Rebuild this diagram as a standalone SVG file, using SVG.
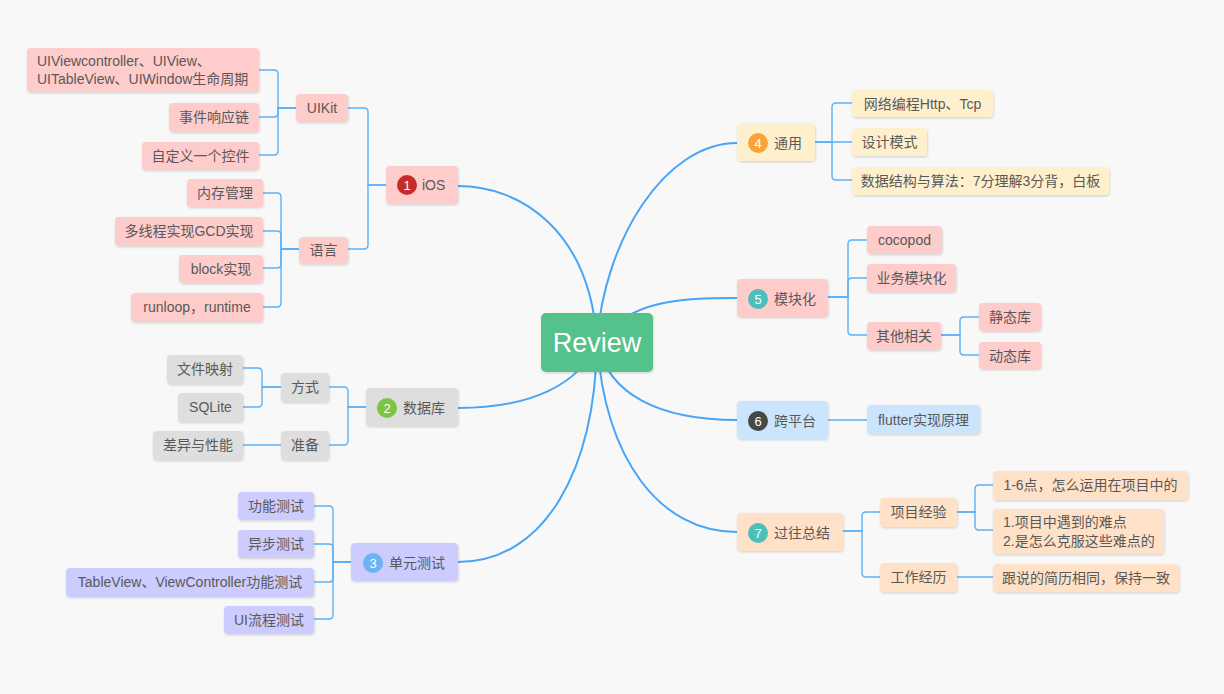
<svg xmlns="http://www.w3.org/2000/svg" width="1224" height="694" viewBox="0 0 1224 694">
<defs>
<filter id="sh" x="-10%" y="-20%" width="120%" height="150%">
<feDropShadow dx="0.6" dy="1.2" stdDeviation="0.8" flood-color="#000" flood-opacity="0.16"/>
</filter>
<style>
text{font-family:"Liberation Sans","Noto Sans CJK SC",sans-serif;font-size:14px;fill:#595959;dominant-baseline:central}
.c{text-anchor:middle}
.box{filter:url(#sh)}
.pink{fill:#FFCCCC}
.grey{fill:#DEDEDE}
.lav{fill:#CCCCFF}
.cream{fill:#FFF0CD}
.blue{fill:#CCE5FF}
.peach{fill:#FFE1C7}
.main{fill:none;stroke:#47A5F6;stroke-width:2}
.sub{fill:none;stroke:#5DB1F7;stroke-width:1.4}
.bn{fill:#fff;font-size:13px;text-anchor:middle}
</style>
</defs>
<rect width="1224" height="694" fill="#F8F8F8"/>
<g id="connectors">
<path class="main" d="M597,342 C590,230 520,186 458,186"/>
<path class="main" d="M597,342 C580,385 530,408 458,408"/>
<path class="main" d="M597,342 C595,470 545,562 458,562"/>
<path class="main" d="M597,342 C604,240 665,143 737,143"/>
<path class="main" d="M597,342 C630,300 680,298 737,298"/>
<path class="main" d="M597,342 C608,395 660,420 737,420"/>
<path class="main" d="M597,342 C605,460 660,532 737,532"/>
<path class="sub" d="M386,185 H368 V112 Q368,108 364,108 H348"/>
<path class="sub" d="M386,185 H368 V245 Q368,249 364,249 H348"/>
<path class="sub" d="M296,108 H278 V74 Q278,70 274,70 H259"/>
<path class="sub" d="M296,108 H278 V113 Q278,117 274,117 H259"/>
<path class="sub" d="M296,108 H278 V151 Q278,155 274,155 H259"/>
<path class="sub" d="M299,249 H281 V197 Q281,193 277,193 H263"/>
<path class="sub" d="M299,249 H281 V235 Q281,231 277,231 H263"/>
<path class="sub" d="M299,249 H281 V264 Q281,268 277,268 H263"/>
<path class="sub" d="M299,249 H281 V303 Q281,307 277,307 H263"/>
<path class="sub" d="M366,407 H348 V391 Q348,387 344,387 H329"/>
<path class="sub" d="M366,407 H348 V441 Q348,445 344,445 H329"/>
<path class="sub" d="M281,387 H262 V372 Q262,368 258,368 H243"/>
<path class="sub" d="M281,387 H262 V403 Q262,407 258,407 H243"/>
<path class="sub" d="M281,445 H243"/>
<path class="sub" d="M351,562 H333 V510 Q333,506 329,506 H314"/>
<path class="sub" d="M351,562 H333 V548 Q333,544 329,544 H314"/>
<path class="sub" d="M351,562 H333 V578 Q333,582 329,582 H314"/>
<path class="sub" d="M351,562 H333 V615 Q333,619 329,619 H314"/>
<path class="sub" d="M815,142 H832 V107 Q832,103 836,103 H852"/>
<path class="sub" d="M815,142 H852"/>
<path class="sub" d="M815,142 H832 V176 Q832,180 836,180 H852"/>
<path class="sub" d="M828,297 H848 V244 Q848,240 852,240 H867"/>
<path class="sub" d="M828,297 H848 V282 Q848,278 852,278 H867"/>
<path class="sub" d="M828,297 H848 V331 Q848,335 852,335 H867"/>
<path class="sub" d="M941,335 H960 V321 Q960,317 964,317 H979"/>
<path class="sub" d="M941,335 H960 V351 Q960,355 964,355 H979"/>
<path class="sub" d="M828,420 H867"/>
<path class="sub" d="M843,531 H862 V516 Q862,512 866,512 H880"/>
<path class="sub" d="M843,531 H862 V573 Q862,577 866,577 H880"/>
<path class="sub" d="M957,512 H975 V489 Q975,485 979,485 H993"/>
<path class="sub" d="M957,512 H975 V526 Q975,530 979,530 H993"/>
<path class="sub" d="M957,577 H993"/>
</g>
<g id="root">
<rect class="box" x="541" y="313" width="112" height="59" rx="5" fill="#55C18B"/>
<text class="c" x="597" y="343" style="font-size:27px;fill:#fff">Review</text>
</g>
<g id="ios">
<rect class="box pink" x="386" y="166" width="72" height="38" rx="4"/>
<circle cx="407" cy="185" r="10" fill="#C62C2C"/>
<text class="bn" x="407" y="185">1</text>
<text x="422" y="185">iOS</text>
</g>
<g id="uikit"><rect class="box pink" x="296" y="94" width="52" height="28" rx="4"/><text class="c" x="322" y="108">UIKit</text></g>
<g id="lang"><rect class="box pink" x="299" y="237" width="49" height="27" rx="4"/><text class="c" x="323.5" y="250">语言</text></g>
<g id="lifecycle"><rect class="box pink" x="27" y="48" width="232" height="44" rx="4"/>
<text x="37" y="61">UIViewcontroller、UIView、</text>
<text x="37" y="79">UITableView、UIWindow生命周期</text></g>
<g id="responder"><rect class="box pink" x="169" y="103" width="90" height="29" rx="4"/><text class="c" x="214" y="117">事件响应链</text></g>
<g id="custom"><rect class="box pink" x="142" y="142" width="117" height="28" rx="4"/><text class="c" x="200.5" y="156">自定义一个控件</text></g>
<g id="memory"><rect class="box pink" x="187" y="179" width="76" height="28" rx="4"/><text class="c" x="225" y="193">内存管理</text></g>
<g id="gcd"><rect class="box pink" x="115" y="217" width="148" height="29" rx="4"/><text class="c" x="189" y="231">多线程实现GCD实现</text></g>
<g id="block"><rect class="box pink" x="179" y="255" width="84" height="28" rx="4"/><text class="c" x="221" y="269">block实现</text></g>
<g id="runloop"><rect class="box pink" x="131" y="293" width="132" height="29" rx="4"/><text class="c" x="197" y="307">runloop，runtime</text></g>
<g id="db">
<rect class="box grey" x="366" y="388" width="92" height="38" rx="4"/>
<circle cx="387" cy="408" r="10" fill="#7CC444"/>
<text class="bn" x="387" y="408">2</text>
<text x="403" y="408">数据库</text>
</g>
<g id="way"><rect class="box grey" x="281" y="373" width="48" height="29" rx="4"/><text class="c" x="305" y="387">方式</text></g>
<g id="prep"><rect class="box grey" x="281" y="431" width="48" height="29" rx="4"/><text class="c" x="305" y="445">准备</text></g>
<g id="mmap"><rect class="box grey" x="167" y="355" width="76" height="29" rx="4"/><text class="c" x="205" y="369">文件映射</text></g>
<g id="sqlite"><rect class="box grey" x="178" y="393" width="65" height="29" rx="4"/><text class="c" x="210.5" y="407">SQLite</text></g>
<g id="diff"><rect class="box grey" x="153" y="431" width="90" height="29" rx="4"/><text class="c" x="198" y="445">差异与性能</text></g>
<g id="unittest">
<rect class="box lav" x="351" y="543" width="107" height="38" rx="4"/>
<circle cx="373" cy="563" r="10" fill="#6DB2F3"/>
<text class="bn" x="373" y="563">3</text>
<text x="389" y="563">单元测试</text>
</g>
<g id="func"><rect class="box lav" x="238" y="492" width="76" height="28" rx="4"/><text class="c" x="276" y="506">功能测试</text></g>
<g id="async"><rect class="box lav" x="238" y="530" width="76" height="28" rx="4"/><text class="c" x="276" y="544">异步测试</text></g>
<g id="tvc"><rect class="box lav" x="66" y="568" width="248" height="29" rx="4"/><text class="c" x="190" y="582">TableView、ViewController功能测试</text></g>
<g id="uiflow"><rect class="box lav" x="224" y="606" width="90" height="28" rx="4"/><text class="c" x="269" y="620">UI流程测试</text></g>
<g id="general">
<rect class="box cream" x="737" y="123" width="78" height="38" rx="4"/>
<circle cx="758" cy="143" r="10" fill="#F9A43B"/>
<text class="bn" x="758" y="143">4</text>
<text x="774" y="143">通用</text>
</g>
<g id="net"><rect class="box cream" x="852" y="90" width="141" height="27" rx="4"/><text class="c" x="922.5" y="104">网络编程Http、Tcp</text></g>
<g id="pattern"><rect class="box cream" x="852" y="128" width="75" height="28" rx="4"/><text class="c" x="889.5" y="142">设计模式</text></g>
<g id="algo"><rect class="box cream" x="852" y="167" width="257" height="28" rx="4"/><text class="c" x="980.5" y="181">数据结构与算法：7分理解3分背，白板</text></g>
<g id="module">
<rect class="box pink" x="737" y="279" width="91" height="38" rx="4"/>
<circle cx="758" cy="299" r="10" fill="#4CBFBA"/>
<text class="bn" x="758" y="299">5</text>
<text x="774" y="299">模块化</text>
</g>
<g id="cocopod"><rect class="box pink" x="867" y="226" width="75" height="28" rx="4"/><text class="c" x="904.5" y="240">cocopod</text></g>
<g id="biz"><rect class="box pink" x="867" y="264" width="89" height="28" rx="4"/><text class="c" x="911.5" y="278">业务模块化</text></g>
<g id="other"><rect class="box pink" x="867" y="322" width="74" height="28" rx="4"/><text class="c" x="904" y="336">其他相关</text></g>
<g id="static"><rect class="box pink" x="979" y="303" width="62" height="28" rx="4"/><text class="c" x="1010" y="317">静态库</text></g>
<g id="dynamic"><rect class="box pink" x="979" y="342" width="62" height="27" rx="4"/><text class="c" x="1010" y="356">动态库</text></g>
<g id="cross">
<rect class="box blue" x="737" y="401" width="91" height="38" rx="4"/>
<circle cx="758" cy="421" r="10" fill="#474747"/>
<text class="bn" x="758" y="421">6</text>
<text x="774" y="421">跨平台</text>
</g>
<g id="flutter"><rect class="box blue" x="867" y="405" width="113" height="29" rx="4"/><text class="c" x="923.5" y="420">flutter实现原理</text></g>
<g id="summary">
<rect class="box peach" x="737" y="513" width="106" height="38" rx="4"/>
<circle cx="758" cy="533" r="10" fill="#4CBFBA"/>
<text class="bn" x="758" y="533">7</text>
<text x="774" y="533">过往总结</text>
</g>
<g id="proj"><rect class="box peach" x="880" y="498" width="77" height="29" rx="4"/><text class="c" x="918.5" y="512">项目经验</text></g>
<g id="work"><rect class="box peach" x="880" y="563" width="77" height="29" rx="4"/><text class="c" x="918.5" y="577">工作经历</text></g>
<g id="apply"><rect class="box peach" x="993" y="471" width="195" height="29" rx="4"/><text class="c" x="1090.5" y="485">1-6点，怎么运用在项目中的</text></g>
<g id="hard"><rect class="box peach" x="993" y="509" width="171" height="45" rx="4"/>
<text x="1003" y="522">1.项目中遇到的难点</text>
<text x="1003" y="541">2.是怎么克服这些难点的</text></g>
<g id="resume"><rect class="box peach" x="993" y="564" width="186" height="28" rx="4"/><text class="c" x="1086" y="578">跟说的简历相同，保持一致</text></g>
</svg>
